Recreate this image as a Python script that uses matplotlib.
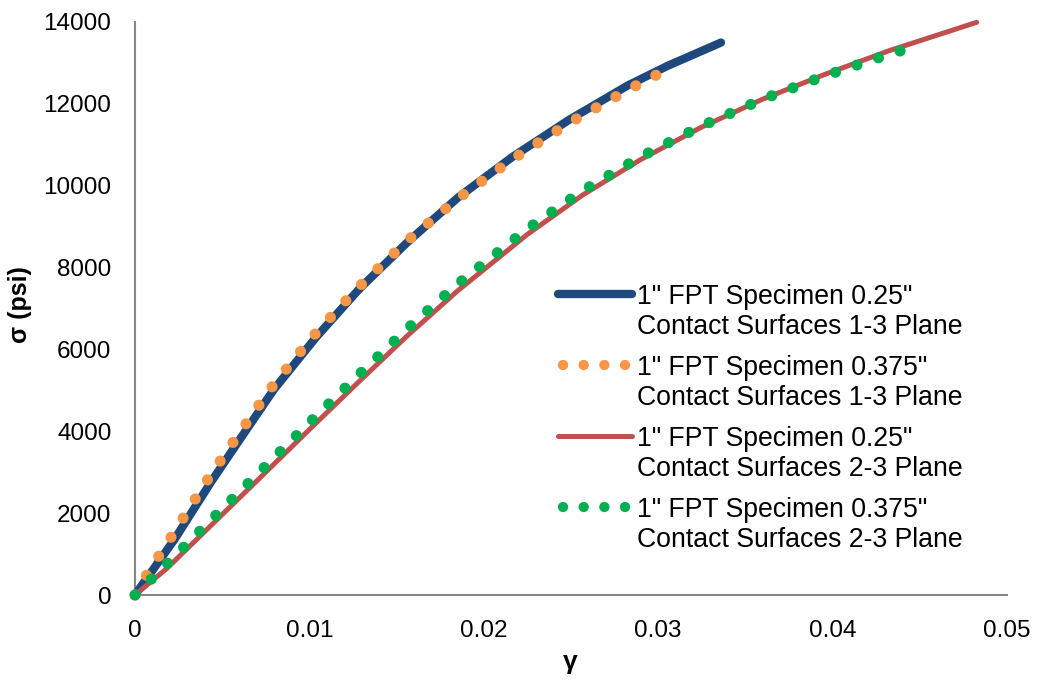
import matplotlib
matplotlib.use("Agg")
import matplotlib.pyplot as plt
from matplotlib.lines import Line2D

plt.rcParams['font.family'] = ['Liberation Sans', 'DejaVu Sans']

# Shear strain (gamma) and shear stress (sigma, psi) for each test series
gamma_a = [0.0, 0.00229, 0.00436, 0.00582, 0.00797, 0.01038, 0.01287, 0.01565,
           0.01852, 0.02163, 0.02489, 0.02825, 0.03052, 0.03360]
sigma_a = [0, 1375, 2761, 3682, 5025, 6296, 7483, 8631, 9711, 10701, 11610,
           12448, 12925, 13498]

gamma_b = [0.0, 0.00063, 0.00201, 0.00407, 0.00554, 0.00774, 0.01015, 0.01273,
           0.01554, 0.01850, 0.02163, 0.02489, 0.02825, 0.03052]
sigma_b = [0, 464, 1375, 2761, 3682, 5025, 6296, 7483, 8631, 9682, 10645, 11532,
           12338, 12844]

gamma_c = [0.0, 0.00182, 0.00455, 0.00728, 0.01002, 0.01280, 0.01558, 0.01848,
           0.02249, 0.02567, 0.02900, 0.03244, 0.03597, 0.03958, 0.04322, 0.04826]
sigma_c = [0, 647, 1779, 2910, 4053, 5197, 6321, 7425, 8808, 9773, 10640, 11422,
           12111, 12724, 13296, 13992]

gamma_d = [0.0, 0.00182, 0.00455, 0.00728, 0.01002, 0.01280, 0.01558, 0.01848,
           0.02249, 0.02567, 0.02900, 0.03244, 0.03597, 0.03958, 0.04322, 0.04444]
sigma_d = [0, 757, 1913, 3061, 4219, 5368, 6491, 7591, 8942, 9878, 10708, 11451,
           12111, 12688, 13210, 13364]

series_labels = [
    ('1" FPT Specimen 0.25"', 'Contact Surfaces 1-3 Plane'),
    ('1" FPT Specimen 0.375"', 'Contact Surfaces 1-3 Plane'),
    ('1" FPT Specimen 0.25"', 'Contact Surfaces 2-3 Plane'),
    ('1" FPT Specimen 0.375"', 'Contact Surfaces 2-3 Plane'),
]

x_ticks = [0, 0.01, 0.02, 0.03, 0.04, 0.05]
x_tick_labels = ['0', '0.01', '0.02', '0.03', '0.04', '0.05']
y_ticks = [0, 2000, 4000, 6000, 8000, 10000, 12000, 14000]

BLUE = '#1F497D'
ORANGE = '#F79646'
RED = '#C0504D'
GREEN = '#00B050'
AXIS_GREY = '#868686'

W, H = 1037, 681
fig = plt.figure(figsize=(W / 100, H / 100), dpi=100)
fig.patch.set_facecolor('white')
ax = fig.add_axes([135 / W, 1 - 595 / H, (1007 - 135) / W, (595 - 22) / H])

DOT_LW = 8.0
dot_style = (0, (0.01, 2.03))
styles = [
    dict(color=BLUE, lw=6.0, ls='-', solid_capstyle='round', solid_joinstyle='round'),
    dict(color=ORANGE, lw=DOT_LW, ls=dot_style, dash_capstyle='round'),
    dict(color=RED, lw=3.6, ls='-', solid_capstyle='round', solid_joinstyle='round'),
    dict(color=GREEN, lw=DOT_LW, ls=dot_style, dash_capstyle='round'),
]
data = [(gamma_a, sigma_a), (gamma_b, sigma_b), (gamma_c, sigma_c), (gamma_d, sigma_d)]
for (gx, sy), st in zip(data, styles):
    ax.plot(gx, sy, clip_on=False, **st)

ax.set_xlim(0, 0.05)
ax.set_ylim(0, 14000)
ax.set_xticks(x_ticks)
ax.set_xticklabels(x_tick_labels)
ax.set_yticks(y_ticks)
ax.set_yticklabels([str(v) for v in y_ticks])
for side in ('top', 'right'):
    ax.spines[side].set_visible(False)
for side in ('left', 'bottom'):
    ax.spines[side].set_color(AXIS_GREY)
    ax.spines[side].set_linewidth(1.5)
    ax.spines[side].set_zorder(0.5)
ax.tick_params(axis='both', length=0, labelsize=17.5, colors='black')
ax.tick_params(axis='y', pad=17)
ax.tick_params(axis='x', pad=18)

fig.text(20 / W, 1 - 305 / H, 'σ (psi)', rotation=90, ha='center', va='center',
         fontsize=18, fontweight='bold')
fig.text(570 / W, 1 - 662 / H, 'γ', ha='center', va='center',
         fontsize=19, fontweight='bold')

# Legend drawn entry by entry: handle beside the first line of each two-line label
entry_top = [294, 365, 436, 507]
line_gap = 30
text_x = 637
legend_size = 19.2
em = legend_size * 100 / 72
for (l1, l2), st, yc in zip(series_labels, styles, entry_top):
    st = dict(st)
    if st['ls'] == '-':
        x0, x1 = 558, 632
    else:
        x0, x1 = 563, 626
        st['lw'] = 7.4
        st['ls'] = (0, (0.01, 2.0))
    handle = Line2D([x0 / W, x1 / W], [1 - yc / H, 1 - yc / H],
                    transform=fig.transFigure, **st)
    fig.add_artist(handle)
    for k, txt in enumerate((l1, l2)):
        base = yc + k * line_gap + 0.358 * em
        fig.text(text_x / W, 1 - base / H, txt, ha='left', va='baseline',
                 fontsize=legend_size, color='black')

fig.savefig('out.png', dpi=100, facecolor='white')
